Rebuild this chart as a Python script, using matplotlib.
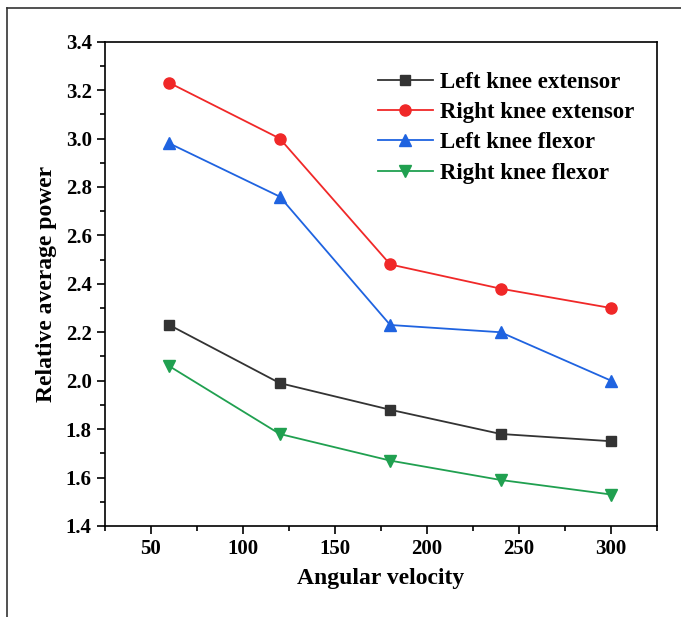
import matplotlib.pyplot as plt
from matplotlib.lines import Line2D
from matplotlib.ticker import MultipleLocator

# === datos ===
velocidad = [60, 120, 180, 240, 300]
left_ext = [2.23, 1.99, 1.88, 1.78, 1.75]
right_ext = [3.23, 3.00, 2.48, 2.38, 2.30]
left_flex = [2.98, 2.76, 2.23, 2.20, 2.00]
right_flex = [2.06, 1.78, 1.67, 1.59, 1.53]

plt.rcParams['font.family'] = ['Liberation Serif', 'DejaVu Serif']
plt.rcParams['font.weight'] = 'bold'

fig = plt.figure(figsize=(6.81, 6.17), dpi=100)
ax = fig.add_axes([0.154, 0.1475, 0.811, 0.785])

ax.plot(velocidad, left_ext, color="#333333", marker="s", ms=7, lw=1.3, label="Left knee extensor")
ax.plot(velocidad, right_ext, color="#f02828", marker="o", ms=8, lw=1.3, label="Right knee extensor")
ax.plot(velocidad, left_flex, color="#1f63e0", marker="^", ms=9, lw=1.3, label="Left knee flexor")
ax.plot(velocidad, right_flex, color="#20a050", marker="v", ms=9, lw=1.3, label="Right knee flexor")

ax.set_xlim(25, 325)
ax.set_ylim(1.4, 3.4)
ax.xaxis.set_major_locator(MultipleLocator(50))
ax.xaxis.set_minor_locator(MultipleLocator(25))
ax.yaxis.set_major_locator(MultipleLocator(0.2))
ax.yaxis.set_minor_locator(MultipleLocator(0.1))
ax.yaxis.set_major_formatter(plt.FormatStrFormatter('%.1f'))
ax.tick_params(which="major", direction="out", length=6, width=1.2, labelsize=15)
ax.tick_params(which="minor", direction="out", length=3.5, width=1.2)
for s in ax.spines.values():
    s.set_linewidth(1.2)

ax.set_xlabel("Angular velocity", fontsize=17, fontweight="bold", labelpad=6)
ax.set_ylabel("Relative average power", fontsize=17, fontweight="bold", labelpad=6)

ax.legend(loc="upper right", bbox_to_anchor=(0.995, 0.98), frameon=False, fontsize=16.5,
          handlelength=2.4, labelspacing=0.4, handletextpad=0.3)

# marco exterior (solo arriba e izquierda)
fig.add_artist(Line2D([0.010, 1.0], [0.987, 0.987], color="#333333", lw=1.2))
fig.add_artist(Line2D([0.010, 0.010], [0.0, 0.987], color="#333333", lw=1.2))

plt.savefig("out.png", dpi=100)
